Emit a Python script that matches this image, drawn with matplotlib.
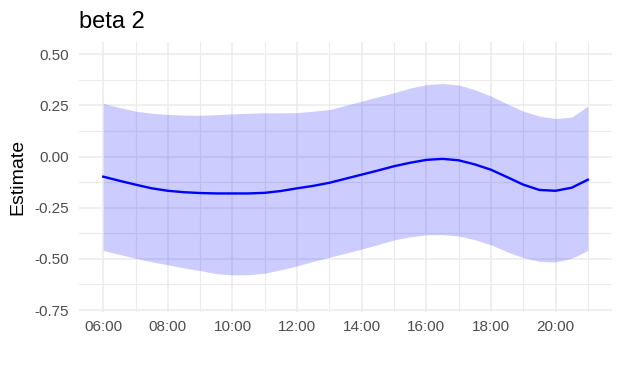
import numpy as np
import matplotlib
matplotlib.use('Agg')
import matplotlib.pyplot as plt
from matplotlib.ticker import FixedLocator, FuncFormatter

# hour of day and estimate with its band
hours = [6, 6.5, 7, 7.5, 8, 8.5, 9, 9.5, 10, 10.5, 11, 11.5, 12, 12.5, 13, 13.5,
         14, 14.5, 15, 15.5, 16, 16.5, 17, 17.5, 18, 18.5, 19, 19.5, 20, 20.5, 21]
estimate = [-0.098, -0.118, -0.137, -0.155, -0.167, -0.174, -0.178, -0.180, -0.180,
            -0.180, -0.177, -0.168, -0.155, -0.143, -0.128, -0.108, -0.088, -0.068,
            -0.047, -0.030, -0.016, -0.011, -0.018, -0.038, -0.064, -0.100, -0.137,
            -0.163, -0.167, -0.152, -0.113]
upper = [0.260, 0.240, 0.222, 0.212, 0.206, 0.203, 0.202, 0.205, 0.209, 0.212, 0.214,
         0.214, 0.215, 0.222, 0.230, 0.250, 0.271, 0.292, 0.312, 0.335, 0.352, 0.357,
         0.350, 0.327, 0.296, 0.258, 0.222, 0.198, 0.186, 0.193, 0.247]
lower = [-0.459, -0.478, -0.497, -0.514, -0.529, -0.544, -0.557, -0.572, -0.578,
         -0.577, -0.570, -0.553, -0.534, -0.512, -0.492, -0.472, -0.452, -0.430,
         -0.407, -0.392, -0.382, -0.381, -0.388, -0.406, -0.431, -0.465, -0.494,
         -0.512, -0.515, -0.497, -0.459]

x_major = [6, 8, 10, 12, 14, 16, 18, 20]
x_minor = [7, 9, 11, 13, 15, 17, 19, 21]
y_major = [-0.75, -0.5, -0.25, 0.0, 0.25, 0.5]
y_minor = [-0.625, -0.375, -0.125, 0.125, 0.375]

plt.rcParams['font.family'] = ['Liberation Sans', 'DejaVu Sans']

fig = plt.figure(figsize=(6.22, 3.72), dpi=100)
ax = fig.add_axes([0.127, 0.161, 0.857, 0.726])

ax.fill_between(hours, lower, upper, color='#0000ff', alpha=0.2, linewidth=0, zorder=2)
ax.plot(hours, estimate, color='#0000ff', linewidth=1.7, zorder=3)

ax.set_xlim(5.25, 21.75)
ax.set_ylim(-0.76, 0.56)

ax.xaxis.set_major_locator(FixedLocator(x_major))
ax.xaxis.set_minor_locator(FixedLocator(x_minor))
ax.yaxis.set_major_locator(FixedLocator(y_major))
ax.yaxis.set_minor_locator(FixedLocator(y_minor))
ax.xaxis.set_major_formatter(FuncFormatter(lambda v, p: "{:02d}:00".format(int(round(v)))))
ax.yaxis.set_major_formatter(FuncFormatter(lambda v, p: "{:.2f}".format(v)))

ax.grid(which='major', color='#EBEBEB', linewidth=1.1, zorder=0)
ax.grid(which='minor', color='#EBEBEB', linewidth=0.8, zorder=0)
ax.set_axisbelow(True)
for s in ax.spines.values():
    s.set_visible(False)
ax.tick_params(which='both', length=0, labelsize=11, labelcolor='#4D4D4D')
ax.tick_params(axis='y', pad=7)
ax.tick_params(axis='x', pad=6)

ax.set_ylabel("Estimate", fontsize=14, color='black', labelpad=6)
ax.set_title("beta 2", fontsize=17, loc='left', pad=10)

plt.savefig("out.png", dpi=100)
